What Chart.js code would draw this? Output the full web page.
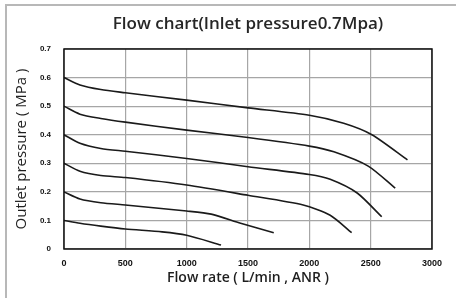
<!DOCTYPE html>
<html>
<head>
<meta charset="utf-8">
<script src="https://cdn.jsdelivr.net/npm/chart.js@4/dist/chart.umd.min.js"></script>
<style>
  html, body { margin: 0; padding: 0; background: #fff; }
  #wrap { position: relative; width: 456px; height: 298px; overflow: hidden; }
  #frame { position: absolute; left: 5px; top: 4px; width: 460px; height: 300px;
           border-top: 2px solid #b8b8b8; border-left: 2px solid #b8b8b8; pointer-events: none; }
  canvas { position: absolute; left: 0; top: 0; }
</style>
</head>
<body>
<div id="wrap">
  <div id="frame"></div>
  <canvas id="flow" width="456" height="298"></canvas>
</div>
<script>
// flow rate (L/min, ANR) and outlet pressure (MPa) for each set pressure
const flow06 = [0, 130, 300, 500, 1000, 1500, 2000, 2280, 2510, 2800];
const pres06 = [0.6, 0.574, 0.558, 0.547, 0.521, 0.494, 0.468, 0.44, 0.40, 0.312];
const flow05 = [0, 130, 300, 500, 1000, 1500, 2000, 2200, 2480, 2700];
const pres05 = [0.5, 0.472, 0.457, 0.444, 0.416, 0.39, 0.36, 0.34, 0.29, 0.213];
const flow04 = [0, 130, 300, 500, 1000, 1500, 2000, 2170, 2390, 2590];
const pres04 = [0.4, 0.37, 0.352, 0.342, 0.317, 0.288, 0.261, 0.244, 0.196, 0.113];
const flow03 = [0, 130, 300, 500, 1000, 1500, 1950, 2170, 2345];
const pres03 = [0.3, 0.272, 0.257, 0.25, 0.224, 0.188, 0.154, 0.118, 0.057];
const flow02 = [0, 130, 300, 500, 1000, 1200, 1440, 1710];
const pres02 = [0.2, 0.175, 0.162, 0.154, 0.133, 0.122, 0.09, 0.057];
const flow01 = [0, 130, 300, 500, 800, 1000, 1280];
const pres01 = [0.1, 0.09, 0.08, 0.07, 0.06, 0.048, 0.014];

const xTickLabels = ["0", "500", "1000", "1500", "2000", "2500", "3000"];
const yTickLabels = ["0", "0.1", "0.2", "0.3", "0.4", "0.5", "0.6", "0.7"];

const curves = [
  [flow06, pres06], [flow05, pres05], [flow04, pres04],
  [flow03, pres03], [flow02, pres02], [flow01, pres01]
];

function toPoints(xs, ys) {
  return xs.map((x, i) => ({ x: x, y: ys[i] }));
}

// black frame round the plot area
const plotBox = {
  id: 'plotBox',
  afterDraw(chart) {
    const a = chart.chartArea, c = chart.ctx;
    c.save();
    c.strokeStyle = '#111';
    c.lineWidth = 1.5;
    c.strokeRect(a.left, a.top, a.right - a.left, a.bottom - a.top);
    c.restore();
  }
};

new Chart(document.getElementById('flow'), {
  type: 'line',
  data: {
    datasets: curves.map(c => ({
      data: toPoints(c[0], c[1]),
      borderColor: '#1a1a1a',
      borderWidth: 1.6,
      pointRadius: 0,
      tension: 0.25,
      fill: false
    }))
  },
  options: {
    responsive: false,
    animation: false,
    layout: { padding: { left: 0, right: 24, top: 0, bottom: 0 } },
    plugins: {
      legend: { display: false },
      tooltip: { enabled: false },
      title: {
        display: true,
        text: 'Flow chart(Inlet pressure0.7Mpa)',
        fullSize: false,
        color: '#262626',
        font: { family: 'Open Sans', size: 17, weight: '600' },
        padding: { top: 14, bottom: 14.6 }
      }
    },
    scales: {
      x: {
        type: 'linear',
        min: 0, max: 3000,
        afterFit(s) { s.height = 49; },
        border: { display: false },
        grid: { color: '#a6a6a6', lineWidth: 1.2, drawTicks: false },
        ticks: {
          stepSize: 500,
          padding: 9,
          maxRotation: 0,
          color: '#111',
          font: { family: 'Liberation Sans', size: 9, weight: 'bold' },
          callback: (v) => xTickLabels[Math.round(v / 500)]
        },
        title: {
          display: true,
          text: 'Flow rate ( L/min , ANR )',
          color: '#1e1e1e',
          font: { family: 'Open Sans', size: 14, weight: '600' },
          padding: { top: 0, bottom: 12 }
        }
      },
      y: {
        min: 0, max: 0.7,
        afterFit(s) { s.width = 64; },
        border: { display: false },
        grid: { color: '#a6a6a6', lineWidth: 1.2, drawTicks: false },
        ticks: {
          stepSize: 0.1,
          padding: 13,
          color: '#111',
          font: { family: 'Liberation Sans', size: 8, weight: 'bold' },
          callback: (v) => yTickLabels[Math.round(v * 10)]
        },
        title: {
          display: true,
          text: 'Outlet pressure ( MPa )',
          color: '#1e1e1e',
          font: { family: 'Open Sans', size: 15, weight: '500' },
          padding: { top: 13, bottom: 0 }
        }
      }
    }
  },
  plugins: [plotBox]
});
</script>
</body>
</html>
